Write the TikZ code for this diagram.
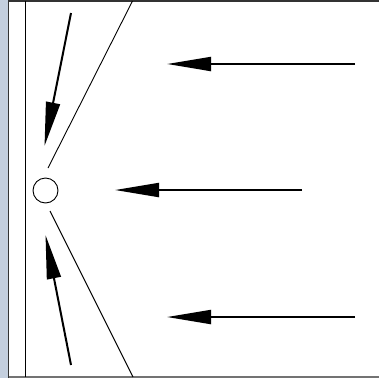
\documentclass[tikz,border=0pt]{standalone}
\usetikzlibrary{arrows.meta}
\definecolor{stripblue}{RGB}{196,207,222}
\tikzset{
  beam/.style={line width=2pt,-{Triangle[length=44pt,width=14pt]}},
  thinline/.style={line width=0.9pt},
  frame/.style={line width=1.2pt,draw=black!80}
}
\begin{document}
\begin{tikzpicture}[x=1pt,y=-1pt]
\useasboundingbox (0,0) rectangle (379,378);
\fill[white] (0,0) rectangle (379,378);
\fill[stripblue] (0,0) rectangle (8,378);
\draw[frame] (8.5,378) -- (8.5,1) -- (379,1);
\draw[line width=1.2pt,draw=black!55] (8.5,377) -- (379,377);
\draw[thinline] (25,1) -- (25,377);
\node[draw,thinline,circle,minimum size=25pt,inner sep=0pt] (hole) at (45.5,190.5) {};
\coordinate (u1) at (132.5,1);
\coordinate (u2) at (48,168);
\coordinate (l1) at (50,211);
\coordinate (l2) at (133,377);
\draw[thinline] (u1) -- (u2);
\draw[thinline] (l1) -- (l2);
\coordinate (a1s) at (71,13);
\coordinate (a1e) at (44.5,146);
\coordinate (a2s) at (71,365);
\coordinate (a2e) at (45.5,235);
\draw[beam] (a1s) -- (a1e);
\draw[beam] (a2s) -- (a2e);
\coordinate (h1s) at (355,64);
\coordinate (h1e) at (167,64);
\coordinate (h2s) at (302,190);
\coordinate (h2e) at (115,190);
\coordinate (h3s) at (355,317);
\coordinate (h3e) at (167,317);
\draw[beam] (h1s) -- (h1e);
\draw[beam] (h2s) -- (h2e);
\draw[beam] (h3s) -- (h3e);
\end{tikzpicture}
\end{document}
